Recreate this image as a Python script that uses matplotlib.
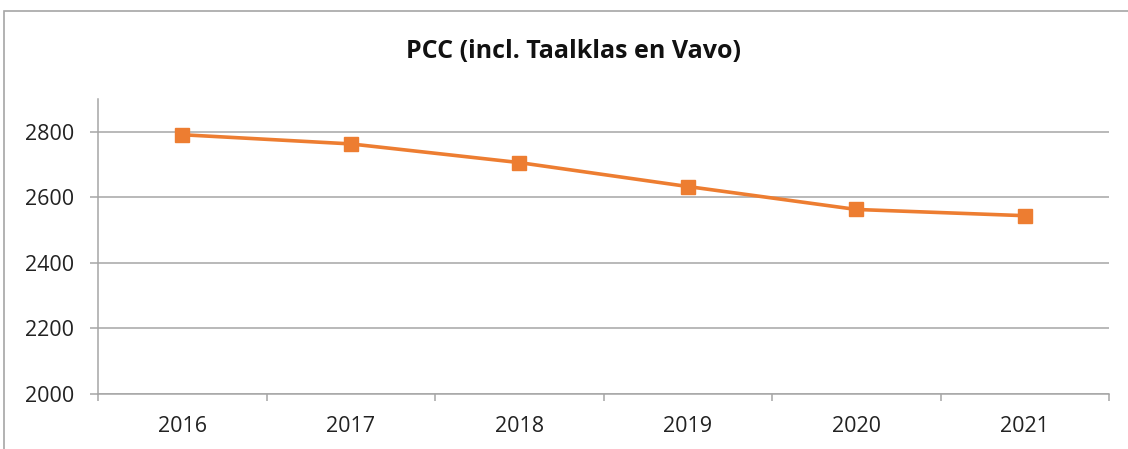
import matplotlib.pyplot as plt
from matplotlib.patches import Rectangle

# gegevens
jaren = ["2016", "2017", "2018", "2019", "2020", "2021"]
aantallen = [2791, 2763, 2706, 2633, 2563, 2544]
yticks = [2000, 2200, 2400, 2600, 2800]

plt.rcParams['font.family'] = ['Open Sans', 'DejaVu Sans']

fig = plt.figure(figsize=(11.28, 4.49), dpi=100)
ax = fig.add_axes([98/1128, 1 - 394/449, (1109 - 98)/1128, (394 - 99)/449])

# kader rond de grafiek
fig.patches.append(Rectangle((4/1128, -0.05), 1.2, 1 - 11/449 + 0.05,
                             transform=fig.transFigure, fill=False,
                             edgecolor='#A6A6A6', linewidth=1.2))

x = list(range(len(jaren)))
ax.plot(x, aantallen, color='#ED7D31', linewidth=2.6, marker='s',
        markersize=10, zorder=3)

ax.set_xlim(-0.5, len(jaren) - 0.5)
ax.set_ylim(2000, 2900)
ax.set_yticks(yticks)
ax.set_yticklabels([str(v) for v in yticks])
ax.set_xticks(x)
ax.set_xticklabels(jaren)
ax.set_xticks([i - 0.5 for i in range(len(jaren) + 1)], minor=True)

ax.grid(axis='y', color='#A6A6A6', linewidth=1.1)
ax.set_axisbelow(True)
for s in ['top', 'right']:
    ax.spines[s].set_visible(False)
for s in ['left', 'bottom']:
    ax.spines[s].set_color('#A6A6A6')
    ax.spines[s].set_linewidth(1.1)

ax.tick_params(axis='y', length=6, width=1.1, color='#A6A6A6', pad=11,
               labelsize=15.5, labelcolor='#222222')
ax.tick_params(axis='x', which='major', length=0, pad=16, labelsize=15.5,
               labelcolor='#222222')
ax.tick_params(axis='x', which='minor', length=5, width=1.1, color='#A6A6A6')

fig.text(573/1128, 1 - 51/449, "PCC (incl. Taalklas en Vavo)", ha='center',
         va='center', fontsize=18, fontweight='bold', color='#111111')

fig.savefig("out.png", dpi=100)
